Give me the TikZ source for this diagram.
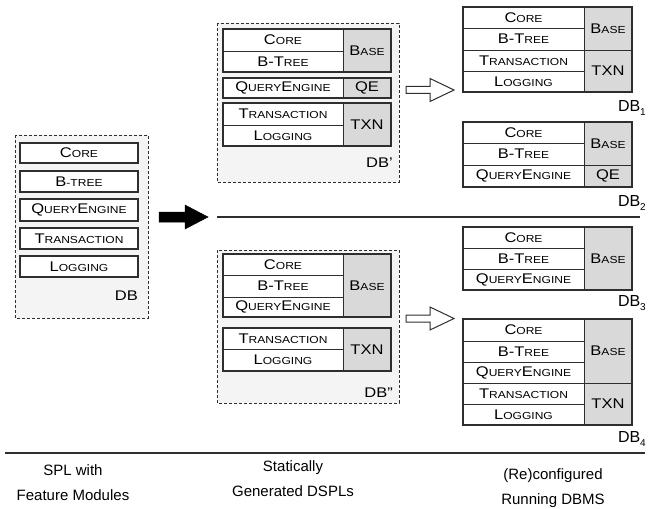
\documentclass[tikz,border=0pt]{standalone}
\usepackage{fontspec}
\setmainfont{Liberation Sans}[FakeStretch=1.18]
\newfontfamily\plainfont{Liberation Sans}

\definecolor{lc}{HTML}{2E2E2E}
\definecolor{tagfill}{HTML}{D9D9D9}
\definecolor{poolfill}{HTML}{F4F4F4}

% big initial followed by small capitals
\newcommand\sm[1]{{\fontsize{10.2pt}{12pt}\selectfont #1}}
\newcommand\dbsub[1]{\raisebox{-4pt}{\fontsize{10pt}{10pt}\selectfont #1}}

% a rectangular cell given by its corners (x1,y1) (x2,y2)
\newcommand\cellnode[7]{%
  \node[#2, minimum width={(#5-#3)*1pt}, minimum height={(#6-#4)*1pt}]
    (#1) at ({(#3+#5)/2},{(#4+#6)/2}) {#7};}

% block arrow: tail point, head start, tip, shaft half width, head half width
\newcommand\blockarrow[6]{%
  \draw[#1] (#2) ++(0,-#5) -- ++(#3,0) -- ++(0,-#6+#5) -- ++(#4-#3,#6)
    -- ++(#3-#4,#6) -- ++(0,-#6+#5) -- ++(-#3,0) -- cycle;}

\tikzset{
  cellbase/.style={inner sep=0pt, outer sep=0pt, font=\fontsize{14pt}{16pt}\selectfont},
  mod/.style={cellbase, draw=lc, line width=0.8pt, fill=white},
  solo/.style={cellbase, draw=lc, line width=1.1pt, fill=white},
  tag/.style={cellbase, draw=lc, line width=0.8pt, fill=tagfill},
  grp/.style={draw=lc, line width=1.6pt},
  pool/.style={draw=lc, line width=0.8pt, dash pattern=on 3pt off 2pt, fill=poolfill},
  dblabel/.style={anchor=base east, inner sep=0pt, font=\fontsize{14pt}{16pt}\selectfont},
  varlabel/.style={anchor=base east, inner sep=0pt, font=\plainfont\fontsize{16pt}{18pt}\selectfont},
  caption/.style={align=center, inner sep=0pt, font=\plainfont\fontsize{15pt}{25pt}\selectfont},
  rule/.style={draw=lc, line width=1.2pt},
  solidarrow/.style={fill=black, draw=black, line width=0.5pt, line join=miter},
  hollowarrow/.style={fill=white, draw=lc, line width=1pt, line join=miter},
}

\begin{document}
\begin{tikzpicture}[x=1pt, y=-1pt]
\useasboundingbox (0,0) rectangle (655,508);

% ---------- SPL with feature modules ----------
\draw[pool] (15,135) rectangle (148,318);
\cellnode{a1}{solo}{20}{143}{138}{163}{C\sm{ORE}}
\cellnode{a2}{solo}{20}{171}{138}{192}{B\sm{-TREE}}
\cellnode{a3}{solo}{20}{199}{138}{221}{Q\sm{UERY}E\sm{NGINE}}
\cellnode{a4}{solo}{20}{228}{138}{249}{T\sm{RANSACTION}}
\cellnode{a5}{solo}{20}{256}{138}{277}{L\sm{OGGING}}
\node[dblabel] (dbA) at (138,300) {DB};

% ---------- DB' ----------
\draw[pool] (217,23) rectangle (399,182);
\cellnode{b1}{mod}{223}{29}{343}{51}{C\sm{ORE}}
\cellnode{b2}{mod}{223}{51}{343}{72}{B-T\sm{REE}}
\cellnode{b3}{tag}{343}{29}{391}{72}{B\sm{ASE}}
\draw[grp] (b1.north west) rectangle (b3.south east);
\cellnode{b4}{mod}{223}{78}{343}{98}{Q\sm{UERY}E\sm{NGINE}}
\cellnode{b5}{tag}{343}{78}{391}{98}{QE}
\draw[grp] (b4.north west) rectangle (b5.south east);
\cellnode{b6}{mod}{223}{103}{343}{125}{T\sm{RANSACTION}}
\cellnode{b7}{mod}{223}{125}{343}{146}{L\sm{OGGING}}
\cellnode{b8}{tag}{343}{103}{391}{146}{TXN}
\draw[grp] (b6.north west) rectangle (b8.south east);
\node[dblabel] (dbB) at (393,167) {DB'};

% ---------- DB'' ----------
\draw[pool] (217,250) rectangle (399,403);
\cellnode{c1}{mod}{223}{254}{343}{275}{C\sm{ORE}}
\cellnode{c2}{mod}{223}{275}{343}{297}{B-T\sm{REE}}
\cellnode{c3}{mod}{223}{297}{343}{317}{Q\sm{UERY}E\sm{NGINE}}
\cellnode{c4}{tag}{343}{254}{391}{317}{B\sm{ASE}}
\draw[grp] (c1.north west) rectangle (c4.south east);
\cellnode{c5}{mod}{223}{328}{343}{349}{T\sm{RANSACTION}}
\cellnode{c6}{mod}{223}{349}{343}{371}{L\sm{OGGING}}
\cellnode{c7}{tag}{343}{328}{391}{371}{TXN}
\draw[grp] (c5.north west) rectangle (c7.south east);
\node[dblabel] (dbC) at (393,397) {DB''};

% ---------- DB_1 ----------
\cellnode{d1}{mod}{463}{7}{584}{28}{C\sm{ORE}}
\cellnode{d2}{mod}{463}{28}{584}{50}{B-T\sm{REE}}
\cellnode{d3}{mod}{463}{50}{584}{71}{T\sm{RANSACTION}}
\cellnode{d4}{mod}{463}{71}{584}{92}{L\sm{OGGING}}
\cellnode{d5}{tag}{584}{7}{632}{50}{B\sm{ASE}}
\cellnode{d6}{tag}{584}{50}{632}{92}{TXN}
\draw[grp] (d1.north west) rectangle (d6.south east);
\node[varlabel] (db1) at (646,111) {DB\dbsub{1}};

% ---------- DB_2 ----------
\cellnode{e1}{mod}{463}{122}{584}{143}{C\sm{ORE}}
\cellnode{e2}{mod}{463}{143}{584}{165}{B-T\sm{REE}}
\cellnode{e3}{mod}{463}{165}{584}{187}{Q\sm{UERY}E\sm{NGINE}}
\cellnode{e4}{tag}{584}{122}{632}{165}{B\sm{ASE}}
\cellnode{e5}{tag}{584}{165}{632}{187}{QE}
\draw[grp] (e1.north west) rectangle (e5.south east);
\node[varlabel] (db2) at (646,206) {DB\dbsub{2}};

% ---------- DB_3 ----------
\cellnode{f1}{mod}{463}{227}{584}{248}{C\sm{ORE}}
\cellnode{f2}{mod}{463}{248}{584}{269}{B-T\sm{REE}}
\cellnode{f3}{mod}{463}{269}{584}{290}{Q\sm{UERY}E\sm{NGINE}}
\cellnode{f4}{tag}{584}{227}{632}{290}{B\sm{ASE}}
\draw[grp] (f1.north west) rectangle (f4.south east);
\node[varlabel] (db3) at (646,306) {DB\dbsub{3}};

% ---------- DB_4 ----------
\cellnode{g1}{mod}{463}{319}{584}{341}{C\sm{ORE}}
\cellnode{g2}{mod}{463}{341}{584}{362}{B-T\sm{REE}}
\cellnode{g3}{mod}{463}{362}{584}{383}{Q\sm{UERY}E\sm{NGINE}}
\cellnode{g4}{mod}{463}{383}{584}{404}{T\sm{RANSACTION}}
\cellnode{g5}{mod}{463}{404}{584}{425}{L\sm{OGGING}}
\cellnode{g6}{tag}{584}{319}{632}{383}{B\sm{ASE}}
\cellnode{g7}{tag}{584}{383}{632}{425}{TXN}
\draw[grp] (g1.north west) rectangle (g7.south east);
\node[varlabel] (db4) at (646,442) {DB\dbsub{4}};

% ---------- arrows and rules ----------
\coordinate (bigtail) at (159,217);
\blockarrow{solidarrow}{bigtail}{26}{49}{5}{12}
\coordinate (ruleL) at (217,217);
\coordinate (ruleR) at (640,217);
\draw[rule] (ruleL) -- (ruleR);

\coordinate (toptail) at (406,90);
\blockarrow{hollowarrow}{toptail}{24}{48}{3.5}{11.5}
\coordinate (bottail) at (406,318.5);
\blockarrow{hollowarrow}{bottail}{24}{48}{3.5}{11.5}

\coordinate (baseL) at (5,453);
\coordinate (baseR) at (645,453);
\draw[rule] (baseL) -- (baseR);

% ---------- stage captions ----------
\node[caption] (capA) at (73,483) {SPL with\\Feature Modules};
\node[caption] (capB) at (293,479) {Statically\\Generated DSPLs};
\node[caption] (capC) at (553,488) {(Re)configured\\Running DBMS};
\end{tikzpicture}
\end{document}
